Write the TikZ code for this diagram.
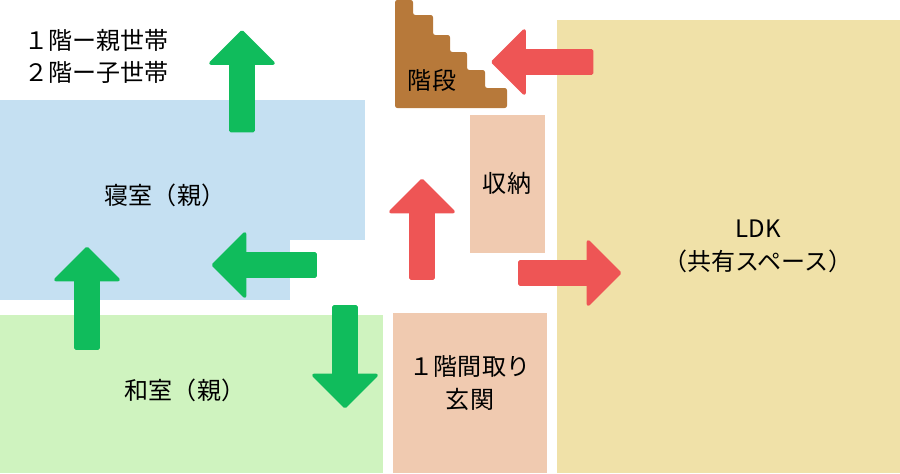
\documentclass[tikz,border=0pt]{standalone}
\usepackage{fontspec}
\setmainfont{Noto Sans CJK JP}
\usetikzlibrary{shapes.arrows}
\definecolor{roomblue}{HTML}{C5E0F2}
\definecolor{roomgreen}{HTML}{CFF3BF}
\definecolor{roomsalmon}{HTML}{F0CAB0}
\definecolor{roomyellow}{HTML}{F0E1A8}
\definecolor{stairbrown}{HTML}{B7793A}
\definecolor{arrowgreen}{HTML}{10BC5C}
\definecolor{arrowred}{HTML}{EE5555}
\tikzset{
  label/.style={font=\fontsize{20.5}{28}\selectfont,align=center},
  flow/.style={single arrow,inner xsep=0pt,inner ysep=8pt,
    single arrow head extend=17pt,line width=3pt,line join=round},
  flowg/.style={flow,fill=arrowgreen,draw=arrowgreen},
  flowr/.style={flow,fill=arrowred,draw=arrowred}
}
\begin{document}
\begin{tikzpicture}[x=0.03cm,y=-0.03cm]
\useasboundingbox (0,0) rectangle (900,473);
% rooms
\fill[roomblue] (0,100) rectangle (290,300);
\fill[roomblue] (290,100) rectangle (365,240);
\fill[roomgreen] (0,315) rectangle (383,473);
\fill[roomsalmon] (470,115) rectangle (545,253);
\fill[roomsalmon] (393,313) rectangle (547,473);
\fill[roomyellow] (557,20) rectangle (900,473);
\fill[stairbrown,rounded corners=2pt] (395,0) -- (413,0) -- (413,15) -- (433,15) -- (433,35)
  -- (450,35) -- (450,52) -- (467,52) -- (467,70) -- (485,70) -- (485,88)
  -- (507,88) -- (507,108) -- (395,108) -- cycle;

\node[label,anchor=west] (floor1) at (20,40) {１階ー親世帯};
\node[label,anchor=west] (floor2) at (20,72) {２階ー子世帯};
\node[label] (shinshitsu) at (165,195) {寝室（親）};
\node[label] (washitsu) at (185,390) {和室（親）};
\node[label] (shuno) at (507,183) {収納};
\node[label] (genkan) at (470,383) {１階間取り\\玄関};
\node[label] (ldk) at (758,246) {LDK\\（共有スペース）};
\node[label] (kaidan) at (432,80) {階段};

% arrows
\node[flowg,minimum height=99*0.85pt,rotate=90] (gup1) at (242,87) {};
\node[flowg,minimum height=102*0.85pt,rotate=180] (gleft) at (270,265) {};
\node[flowg,minimum height=100*0.85pt,rotate=90] (gup2) at (87,304) {};
\node[flowg,minimum height=100*0.85pt,rotate=-90] (gdown) at (345,351) {};
\node[flowr,minimum height=99*0.85pt,rotate=180] (rleft) at (548,62) {};
\node[flowr,minimum height=98*0.85pt,rotate=90] (rup) at (422,235) {};
\node[flowr,minimum height=100*0.85pt] (rright) at (564,273) {};
\end{tikzpicture}
\end{document}
